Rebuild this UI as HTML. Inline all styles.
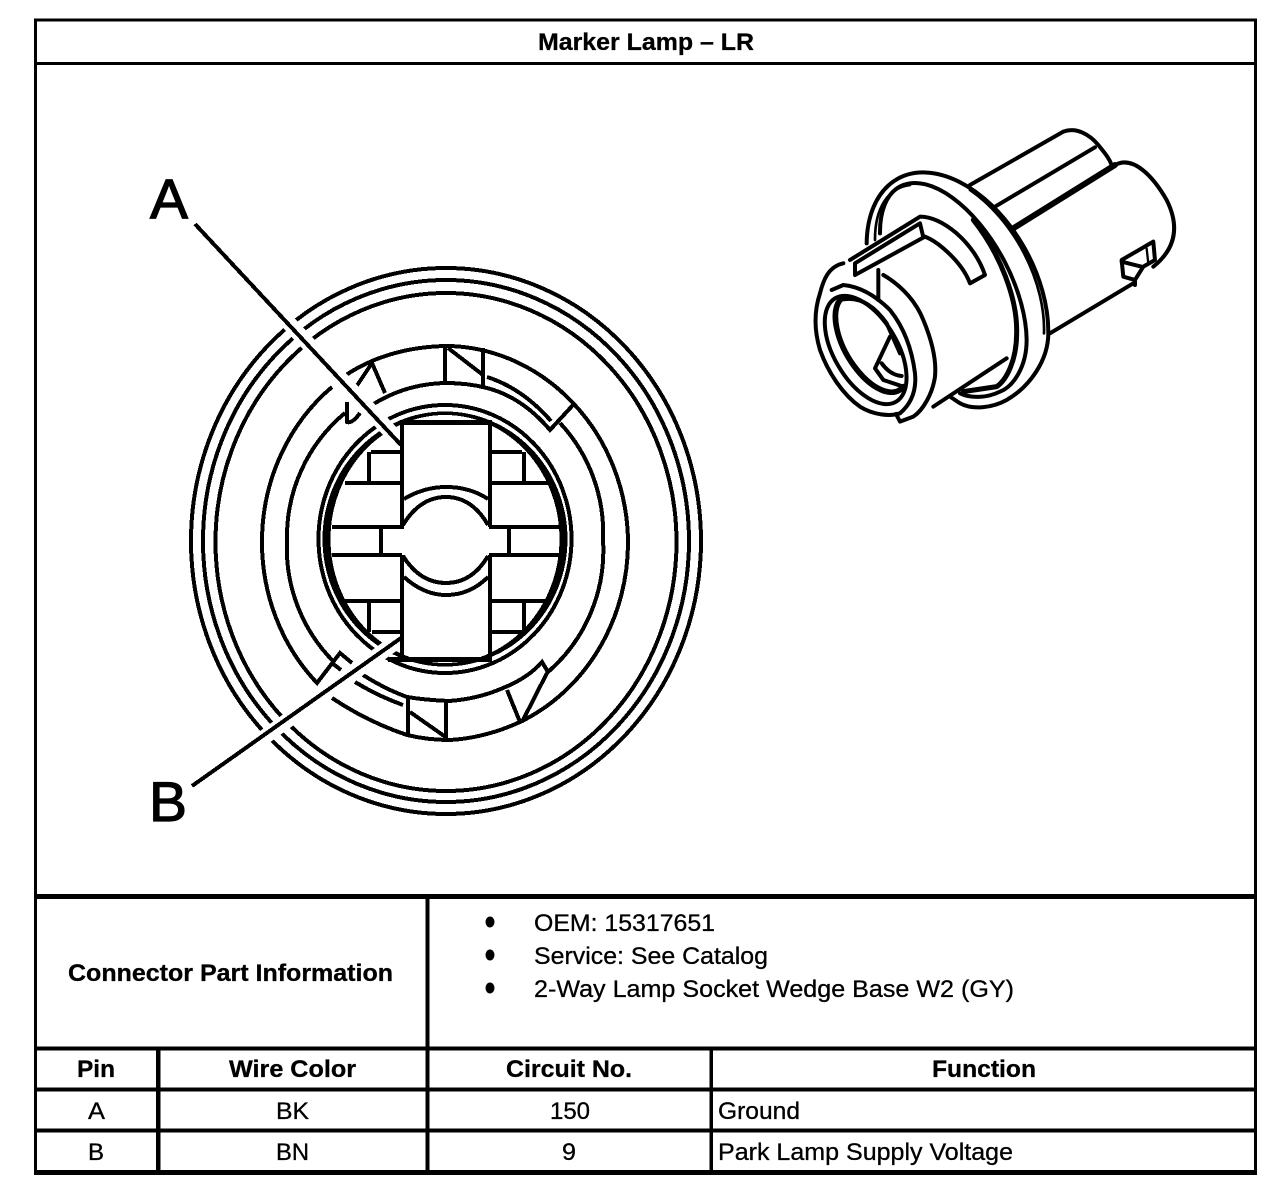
<!DOCTYPE html>
<html><head><meta charset="utf-8"><title>Marker Lamp – LR</title>
<style>html,body{margin:0;padding:0;background:#fff}svg{display:block}
text{font-family:"Liberation Sans",Arial,sans-serif;fill:#000;stroke:#000;stroke-width:.3}
.b{font-weight:bold;font-size:24px}.r{font-size:24px}.l{font-size:56px;stroke-width:1.2}</style></head>
<body>
<svg xmlns="http://www.w3.org/2000/svg" width="1280" height="1198" viewBox="0 0 1280 1198">
<rect width="1280" height="1198" fill="#fff"/>
<!-- frame -->
<g fill="#000">
<rect x="34" y="18.5" width="1223" height="3"/>
<rect x="34" y="62" width="1223" height="3"/>
<rect x="34" y="18.5" width="3" height="1156"/>
<rect x="1254" y="18.5" width="3" height="1156"/>
<rect x="34" y="894" width="1223" height="5"/>
<rect x="34" y="1046.500" width="1223" height="4"/>
<rect x="34" y="1087.500" width="1223" height="4"/>
<rect x="34" y="1128.500" width="1223" height="4"/>
<rect x="34" y="1170" width="1223" height="5"/>
<rect x="156" y="1047" width="4.500" height="125"/>
<rect x="425.500" y="897" width="4" height="275"/>
<rect x="709.500" y="1047" width="3.500" height="125"/>
<ellipse cx="490" cy="922" rx="4.500" ry="5.500"/><ellipse cx="490" cy="955" rx="4.500" ry="5.500"/><ellipse cx="490" cy="988" rx="4.500" ry="5.500"/>
</g>
<g fill="none" stroke="#000" stroke-width="4" shape-rendering="crispEdges">
<!-- outer rings -->
<ellipse cx="446" cy="541" rx="255" ry="273"/>
<ellipse cx="446" cy="541" rx="243" ry="261"/>
<ellipse cx="446" cy="542" rx="230.500" ry="249"/>
<!-- ring 4 & 5 segments -->
<path d="M346 375 Q358 367 372 361 Q405 347 445 346 L450 346 A183 197 0 0 1 573 403 A183 197 0 0 1 628 540 A183 197 0 0 1 520 722 Q485 738 450 740 Q428 740 407 735 Q368 722 332 698"/>
<path d="M332 387 A183 197 0 0 0 262 540 A183 197 0 0 0 317 683 L340 653 L352 663"/>
<path d="M372 405 Q405 384 445 383 Q468 383 487 388 Q522 397 550 430 L573 405"/>
<path d="M487 377 Q522 388 551 421"/>
<path d="M345 413 A158 160 0 0 0 287 540 A158 160 0 0 0 335 663"/>
<path d="M347 402 L347 422 Q352 424 360 413"/>
<path d="M332 663 L341 670"/>
<path d="M560 423 A158 160 0 0 1 603 540 A158 160 0 0 1 548 672 L542 662 Q528 678 503 688 Q478 699 449 701 Q425 700 407 697 Q385 689 363 675"/>
<path d="M355 682 Q378 696 403 705"/>
<path d="M547 673 L522 722 M507 690 L520 722"/>
<path d="M356 387 L372 363 L385 393"/>
<path d="M445 346 V382 M483 348 V388 M448 348 L483 375"/>
<path d="M408 697 V737 M446 700 V740 M410 712 L447 738"/>
<!-- inner rings -->
<ellipse cx="445" cy="539" rx="126.500" ry="134"/>
</g>
<path fill="#000" fill-rule="evenodd" shape-rendering="crispEdges" d="M322.500 539a122.500 127.500 0 1 0 245 0a122.500 127.500 0 1 0 -245 0zM330.500 539a114.500 124 0 1 0 229 0a114.500 124 0 1 0 -229 0z"/>
<!-- leader halos -->
<g fill="none" stroke="#fff" stroke-width="15">
<path d="M215 244 L398 440"/>
<path d="M212 775 L396 642"/>
</g>
<g fill="none" stroke="#000" stroke-width="4" shape-rendering="crispEdges">
<!-- leaders -->
<path d="M195 224 L401 445"/>
<path d="M192 786 L401 638"/>
</g>
<g fill="none" stroke="#000" stroke-width="4" stroke-linejoin="miter" shape-rendering="crispEdges">
<!-- contact cross -->
<path d="M402 444 V527 H371 M402 423 V444 M402 555 V658 M490 423 V527 M490 555 V658"/>
<path d="M400 422.500 H492 M388 659.500 H492" stroke-width="5"/>
<path d="M371 452 H401 M490 452 H522 M345 483 H401 M490 483 H552 M332 527 H402 M489 527 H560 M332 555 H402 M489 555 H560 M343 601 H401 M490 601 H548 M372 632 H401 M490 632 H522"/>
<path d="M369 452 V483 M524 452 V483 M369 601 V632 M524 601 V632 M381 527 V555 M509 527 V555"/>
<path d="M403 525 Q420 497 446 497 Q472 497 488 525"/>
<path d="M404 499 Q424 487 446 487 Q470 487 488 499"/>
<path d="M403 556 Q420 583 446 583 Q472 583 488 556"/>
<path d="M404 577 Q424 595 446 595 Q470 595 488 577"/>
</g>
<!-- isometric connector -->
<g transform="translate(800 120) scale(.3333)" fill="none" stroke="#000" stroke-width="12" stroke-linejoin="round" stroke-linecap="round">
<path d="M510 195 L790 35 C830 20 870 45 895 75 C915 100 928 115 935 135"/>
<path d="M585 260 L885 82"/>
<path d="M640 325 L945 135" stroke-width="18"/>
<path d="M945 135 C1000 105 1060 170 1100 240 C1135 310 1135 380 1060 440"/>
<path d="M750 640 L1000 490"/>
<path d="M965 420 L1060 365 L1065 420 L1030 440 L1005 480 L970 470 Z M965 425 L1025 440 M1005 480 V495"/>
<path d="M1040 385 L1045 430" stroke-width="7"/>
<!-- flange -->
<path d="M200 370 A373.500 234 61.600 0 1 745 640 C745 720 690 800 620 840 C580 862 520 872 480 850 L450 830"/>
<path d="M510 210 A362 222 61.600 0 1 732 640" stroke-width="8"/>
<path d="M240 340 A340 171 62 0 1 680 660 C680 740 640 800 600 815 C560 835 510 835 480 820"/>
<path d="M225 360 A345 185 62 0 1 330 195" stroke-width="8"/>
<path d="M520 300 A325 160 62 0 1 650 640 C650 720 620 780 590 800 L490 815" stroke-width="15"/>
<path d="M150 420 L360 290 C400 290 440 315 470 340 C510 375 540 420 555 465 L510 490 C495 450 465 415 430 385 C415 372 395 358 375 350 L165 465 V430 L360 310 L370 352"/>
<path d="M235 450 V540"/>
<path d="M250 465 C310 500 350 550 370 600 C395 660 410 720 405 770 C398 820 370 870 340 890 L300 905 L288 882"/>
<path d="M400 860 L620 715"/>
<!-- front face -->
<path d="M130 430 C85 440 70 480 60 520 C40 580 45 640 60 690 C85 760 130 825 180 860 C220 885 270 890 300 880 C335 850 350 810 345 760 C335 680 310 620 270 570 C225 525 180 500 130 495 L95 510"/>
<ellipse cx="197" cy="690" rx="180" ry="95" transform="rotate(59.500 197 690)"/>
<path d="M120 540 A150 75 59.500 0 0 310 800" stroke-width="17"/>
<path d="M120 540 C180 525 225 560 260 610 L300 700"/>
<path d="M270 650 L225 745 L250 780 L310 800 M245 730 Q270 765 305 768"/>
</g>
<!-- text -->
<text class="b" x="538" y="50" textLength="216" lengthAdjust="spacingAndGlyphs">Marker Lamp – LR</text>
<text class="l" x="150" y="218" textLength="38" lengthAdjust="spacingAndGlyphs">A</text>
<text class="l" x="149" y="821" textLength="38" lengthAdjust="spacingAndGlyphs">B</text>
<text class="b" x="68" y="981" textLength="325" lengthAdjust="spacingAndGlyphs">Connector Part Information</text>
<text class="r" x="534" y="931" textLength="181" lengthAdjust="spacingAndGlyphs">OEM: 15317651</text>
<text class="r" x="534" y="964" textLength="234" lengthAdjust="spacingAndGlyphs">Service: See Catalog</text>
<text class="r" x="534" y="997" textLength="480" lengthAdjust="spacingAndGlyphs">2-Way Lamp Socket Wedge Base W2 (GY)</text>
<text class="b" x="77" y="1077" textLength="38" lengthAdjust="spacingAndGlyphs">Pin</text>
<text class="b" x="229" y="1077" textLength="127" lengthAdjust="spacingAndGlyphs">Wire Color</text>
<text class="b" x="506" y="1077" textLength="126" lengthAdjust="spacingAndGlyphs">Circuit No.</text>
<text class="b" x="932" y="1077" textLength="104" lengthAdjust="spacingAndGlyphs">Function</text>
<text class="r" x="88" y="1119" textLength="17" lengthAdjust="spacingAndGlyphs">A</text>
<text class="r" x="276" y="1119" textLength="33" lengthAdjust="spacingAndGlyphs">BK</text>
<text class="r" x="550" y="1119" textLength="40" lengthAdjust="spacingAndGlyphs">150</text>
<text class="r" x="718" y="1119" textLength="82" lengthAdjust="spacingAndGlyphs">Ground</text>
<text class="r" x="88" y="1160" textLength="16" lengthAdjust="spacingAndGlyphs">B</text>
<text class="r" x="276" y="1160" textLength="33" lengthAdjust="spacingAndGlyphs">BN</text>
<text class="r" x="562" y="1160" textLength="14" lengthAdjust="spacingAndGlyphs">9</text>
<text class="r" x="718" y="1160" textLength="295" lengthAdjust="spacingAndGlyphs">Park Lamp Supply Voltage</text>
</svg>
</body></html>
